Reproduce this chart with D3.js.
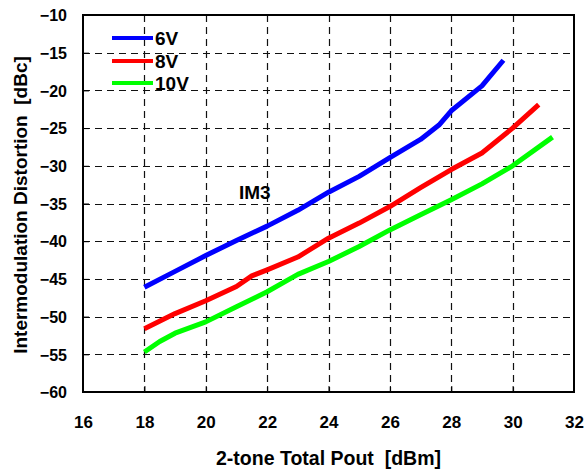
<!DOCTYPE html>
<html><head><meta charset="utf-8">
<script src="https://cdn.jsdelivr.net/npm/d3@7/dist/d3.min.js"></script>
<style>body{margin:0;background:#fff}svg{display:block}text{font-family:Arial,"Liberation Sans",sans-serif;font-weight:bold;fill:#000;white-space:pre}</style>
</head><body>
<svg id="c" width="586" height="471"></svg>
<script>
const xTicks = [16,18,20,22,24,26,28,30,32];
const yTicks = [-10,-15,-20,-25,-30,-35,-40,-45,-50,-55,-60];

const x6V = [18,19,20,21,22,23,24,25,26,27,27.6,28,29,29.7];
const y6V = [-46.1,-44.0,-41.9,-39.9,-38.0,-35.9,-33.5,-31.4,-28.9,-26.5,-24.6,-22.7,-19.4,-16.0];
const x8V = [18,19,20,21,21.5,22,23,24,25,26,27,28,29,30,30.85];
const y8V = [-51.6,-49.6,-47.9,-46.0,-44.6,-43.8,-42.1,-39.6,-37.6,-35.4,-32.9,-30.5,-28.3,-25.0,-21.9];
const x10V = [18,18.5,19,20,21,22,23,24,25,26,27,28,29,30,31.3];
const y10V = [-54.7,-53.3,-52.2,-50.7,-48.7,-46.7,-44.4,-42.7,-40.7,-38.5,-36.5,-34.5,-32.4,-30.0,-26.2];

const seriesNames = ["6V","8V","10V"];
const seriesColors = ["#0000ff","#ff0000","#00ff00"];
const series = [[x6V,y6V],[x8V,y8V],[x10V,y10V]];

const L=83,R=574,T=15,B=392;
const svg = d3.select("#c");
const x = d3.scaleLinear().domain([16,32]).range([L,R]);
const y = d3.scaleLinear().domain([-60,-10]).range([B,T]);

// grid
const g = svg.append("g");
g.selectAll(".vg").data(xTicks.slice(1,-1)).join("line")
 .attr("x1",d=>Math.round(x(d))+0.5).attr("x2",d=>Math.round(x(d))+0.5)
 .attr("y1",T).attr("y2",B).attr("stroke","#111").attr("stroke-width",1.2).attr("stroke-dasharray","7,5");
g.selectAll(".hg").data(yTicks.slice(1,-1)).join("line")
 .attr("y1",d=>Math.round(y(d))+0.5).attr("y2",d=>Math.round(y(d))+0.5)
 .attr("x1",L).attr("x2",R).attr("stroke","#111").attr("stroke-width",1.2).attr("stroke-dasharray","7,5");

// axes (inward ticks)
const xa = svg.append("g").attr("transform",`translate(0,${B})`)
 .call(d3.axisBottom(x).tickValues(xTicks).tickSize(-6).tickPadding(0).tickFormat(d3.format("d")));
xa.select(".domain").remove();
xa.selectAll("line").attr("stroke","#000");
xa.selectAll("text").attr("y",36).attr("dy",0).style("font-size","17px");

const ya = svg.append("g").attr("transform",`translate(${L},0)`)
 .call(d3.axisLeft(y).tickValues(yTicks).tickSize(-6).tickPadding(0).tickFormat(d3.format("d")));
ya.select(".domain").remove();
ya.selectAll("line").attr("stroke","#000");
ya.selectAll("text").attr("x",-16).attr("dy","0.36em").style("font-size","16px");

// frame
svg.append("rect").attr("x",L).attr("y",T).attr("width",R-L).attr("height",B-T)
 .attr("fill","none").attr("stroke","#000").attr("stroke-width",2);

// lines
const line = d3.line().x(d=>x(d[0])).y(d=>y(d[1]));
series.forEach((s,i)=>{
  const pts = s[0].map((v,j)=>[v,s[1][j]]);
  svg.append("path").datum(pts).attr("d",line).attr("fill","none")
   .attr("stroke",seriesColors[i]).attr("stroke-width",5).attr("stroke-linejoin","round");
});

// legend
const legY=[38,61,83];
seriesNames.forEach((n,i)=>{
  svg.append("line").attr("x1",112).attr("x2",153).attr("y1",legY[i]).attr("y2",legY[i])
   .attr("stroke",seriesColors[i]).attr("stroke-width",4);
  svg.append("text").attr("x",155).attr("y",legY[i]).attr("dy","0.36em").style("font-size","19px").text(n);
});

svg.append("text").attr("x",239).attr("y",199).style("font-size","19px").text("IM3");

svg.append("text").attr("x",(L+R)/2).attr("y",465).attr("text-anchor","middle").style("font-size","19.5px")
 .text("2-tone Total Pout  [dBm]");
svg.append("text").attr("transform","translate(27,205) rotate(-90)").attr("text-anchor","middle").style("font-size","19px")
 .text("Intermodulation Distortion  [dBc]");
</script>
</body></html>
